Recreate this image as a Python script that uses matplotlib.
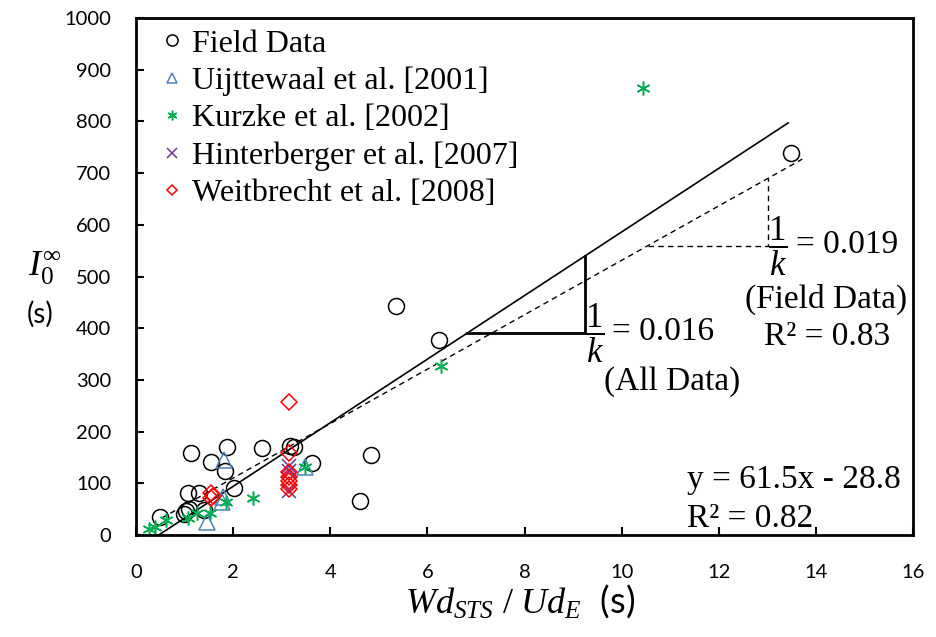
import matplotlib
matplotlib.use("Agg")
import matplotlib.pyplot as plt

plt.rcParams['mathtext.fontset'] = 'custom'
plt.rcParams['mathtext.rm'] = 'Liberation Serif'
plt.rcParams['mathtext.it'] = 'Liberation Serif:italic'
plt.rcParams['mathtext.bf'] = 'Liberation Serif:bold'

# data sets  (Wd_STS/Ud_E [s], I0 [s])
field_x = [0.50, 0.98, 1.02, 1.10, 1.06, 1.30, 1.40, 1.13, 1.54, 1.83, 1.88,
           2.02, 2.60, 3.18, 3.26, 3.63, 4.62, 4.83, 5.36, 6.24, 13.48]
field_y = [34, 40, 46, 50, 82, 81, 48, 159, 141, 124, 171,
           90, 168, 173, 171, 139, 66, 155, 443, 377, 738]

uij_x = [1.46, 1.76, 1.80, 1.81, 3.47]
uij_y = [26, 64, 74, 146, 132]

kur_x = [0.26, 0.40, 0.62, 1.08, 1.26, 1.52, 1.86, 2.41, 3.47, 6.27, 10.43]
kur_y = [12, 16, 29, 32, 42, 43, 64, 72, 132, 326, 865]

hin_x = [3.14, 3.14, 3.14]
hin_y = [133, 124, 86]

wei_x = [1.55, 1.58, 1.55, 3.14, 3.14, 3.14, 3.14, 3.14, 3.14, 3.14]
wei_y = [82, 76, 71, 258, 158, 121, 113, 104, 97, 89]

# fits
a_all, b_all = 61.5, -28.8          # all data
a_fld, b_fld = 1 / 0.019, 5.0       # field data only
all_rng = [0.47, 13.43]
fld_rng = [0.53, 13.72]

fig = plt.figure(figsize=(9.37, 6.37), dpi=100)
ax = fig.add_axes([0.1452, 0.1601, 0.8292, 0.8116])

ax.plot(all_rng, [a_all * x + b_all for x in all_rng], color='black', lw=1.2)
ax.plot(fld_rng, [a_fld * x + b_fld for x in fld_rng], color='black', lw=1.0,
        ls=(0, (4, 3)))

# slope triangles
y_h = 390
x_r = 9.24
x_l = (y_h - b_all) / a_all
ax.plot([x_l, x_r, x_r], [y_h, y_h, a_all * x_r + b_all], color='black', lw=2)
y_h2 = 560
x_r2 = 13.02
x_l2 = (y_h2 - b_fld) / a_fld
ax.plot([x_l2, x_r2, x_r2], [y_h2, y_h2, a_fld * x_r2 + b_fld], color='black',
        lw=1.0, ls=(0, (4, 3)))

ax.plot(field_x, field_y, 'o', ms=11.5, mfc='none', mec='black', mew=1.1,
        label='Field Data')
ax.plot(uij_x, uij_y, '^', ms=11, mfc='none', mec='#4F81BD', mew=1.1,
        label='Uijttewaal et al. [2001]')
ax.plot(kur_x, kur_y, marker=(6, 2, 0), ls='none', ms=10, color='#00B050',
        mew=1.1, label='Kurzke et al. [2002]')
ax.plot(hin_x, hin_y, 'x', ms=10, color='#7030A0', mew=1.1,
        label='Hinterberger et al. [2007]')
ax.plot(wei_x, wei_y, 'D', ms=8, mfc='none', mec='red', mew=1.1,
        label='Weitbrecht et al. [2008]')

ax.set_xlim(0, 16)
ax.set_ylim(0, 1000)
ax.set_xticks(range(0, 17, 2))
ax.set_yticks(range(0, 1001, 100))
for s in ax.spines.values():
    s.set_linewidth(2)
ax.tick_params(direction='in', length=6, width=1.5, labelsize=14.5)
ax.tick_params(axis='y', pad=18)
ax.tick_params(axis='x', pad=21)
for lab in ax.get_xticklabels() + ax.get_yticklabels():
    lab.set_fontfamily('Lato')

leg = ax.legend(loc='upper left', bbox_to_anchor=(0.02, 1.003), frameon=False,
                prop={'family': 'Liberation Serif', 'size': 23},
                markerscale=0.7, handlelength=0.5, handletextpad=0.35,
                labelspacing=0.25, borderaxespad=0.0)

serif = {'family': 'Liberation Serif', 'size': 24}
ax.text(9.45, 391, r'$\dfrac{1}{k}$', ha='center', va='center', fontsize=25)
ax.text(9.8, 393, '= 0.016', ha='left', va='center', fontdict=serif)
ax.text(11.04, 296, '(All Data)', ha='center', va='center', fontdict=serif)
ax.text(13.21, 559, r'$\dfrac{1}{k}$', ha='center', va='center', fontsize=25)
ax.text(13.6, 561, '= 0.019', ha='left', va='center', fontdict=serif)
ax.text(14.21, 455, '(Field Data)', ha='center', va='center', fontdict=serif)
ax.text(14.22, 383, 'R² = 0.83', ha='center', va='center', fontdict=serif)
ax.text(11.35, 106, 'y = 61.5x - 28.8', ha='left', va='center', fontdict=serif)
ax.text(11.35, 31, 'R² = 0.82', ha='left', va='center', fontdict=serif)

fig.text(45 / 937, 1 - 268 / 637, r'$I_0^{\infty}$', ha='center', va='center',
         fontsize=26)
fig.text(40 / 937, 1 - 314 / 637, '(s)', ha='center', va='center',
         fontsize=20, family='Lato')
fig.text(520 / 937, 1 - 601 / 637, r'$Wd_{STS}\ /\ Ud_E$  (s)', ha='center',
         va='center', fontsize=26, family='Lato')

fig.savefig('out.png', dpi=100)
